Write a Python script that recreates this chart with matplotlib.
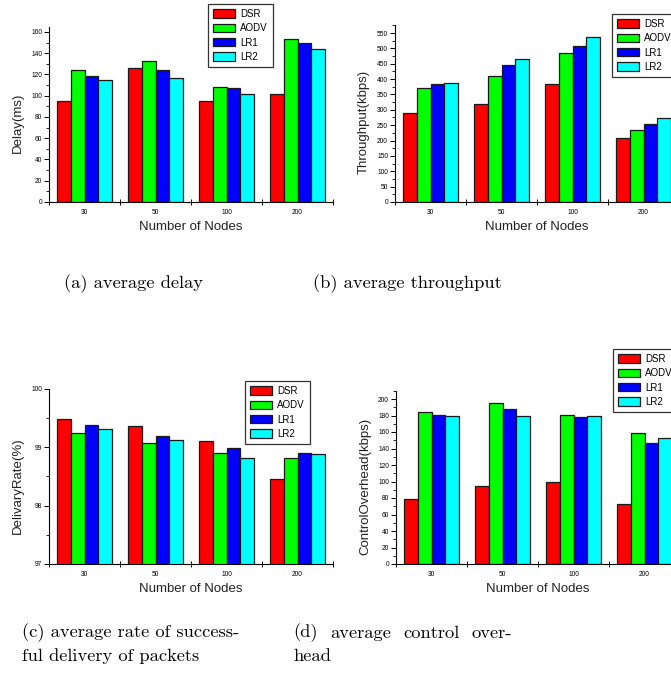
import numpy as np
import matplotlib
matplotlib.use("Agg")
import matplotlib.pyplot as plt
from matplotlib.ticker import MultipleLocator, FixedLocator, NullFormatter

nodes = ["30", "50", "100", "200"]
series = ["DSR", "AODV", "LR1", "LR2"]
colors = ["#ff0000", "#00ff00", "#0000ff", "#00ffff"]

# one row per series (DSR, AODV, LR1, LR2), one column per node count
delay = [[95, 126, 95, 102],
         [124, 133, 108, 153],
         [119, 124, 107, 150],
         [115, 117, 102, 144]]
throughput = [[290, 318, 385, 207],
              [372, 410, 486, 234],
              [383, 446, 507, 254],
              [388, 464, 537, 274]]
delivery = [[99.48, 99.36, 99.11, 98.45],
            [99.24, 99.08, 98.90, 98.81],
            [99.38, 99.19, 98.99, 98.90],
            [99.31, 99.12, 98.81, 98.88]]
overhead = [[79, 95, 100, 73],
            [184, 195, 181, 159],
            [181, 188, 178, 147],
            [179, 179, 179, 153]]

W_PX, H_PX = 671, 689
fig = plt.figure(figsize=(W_PX / 100, H_PX / 100), dpi=100)
SANS = "Liberation Sans"
SERIF = "cmr10"
BW = 0.197


def px_rect(left, right, bottom, top):
    return [left / W_PX, 1 - bottom / H_PX, (right - left) / W_PX, (bottom - top) / H_PX]


def panel(rect, vals, ylim, major, minor, ylabel, leg_xy):
    ax = fig.add_axes(rect)
    x = np.arange(len(nodes))
    for i, (name, col) in enumerate(zip(series, colors)):
        ax.bar(x + (i - 1.5) * BW, vals[i], BW, color=col, edgecolor="#1a1a1a",
               linewidth=0.9, label=name, zorder=2)
    ax.set_xlim(-0.5, 3.5)
    ax.set_ylim(*ylim)
    for s in ("top", "right"):
        ax.spines[s].set_visible(False)
    for s in ("left", "bottom"):
        ax.spines[s].set_linewidth(0.8)
    ax.yaxis.set_major_locator(MultipleLocator(major))
    ax.yaxis.set_minor_locator(MultipleLocator(minor))
    ax.tick_params(axis="y", which="major", length=3.5, width=0.7, labelsize=4.8, pad=1.5)
    ax.tick_params(axis="y", which="minor", length=2, width=0.6)
    # group boundaries carry the ticks, group centres carry the labels
    ax.xaxis.set_major_locator(FixedLocator([-0.5, 0.5, 1.5, 2.5, 3.5]))
    ax.xaxis.set_major_formatter(NullFormatter())
    ax.set_xticks(x, nodes, minor=True)
    ax.tick_params(axis="x", which="major", direction="inout", length=4, width=0.7)
    ax.tick_params(axis="x", which="minor", length=0, labelsize=4.8, pad=5)
    for t in ax.get_xticklabels(minor=True) + ax.get_yticklabels():
        t.set_family(SANS)
    ax.set_xlabel("Number of Nodes", family=SANS, fontsize=9.5, color="#222222", labelpad=4)
    ax.set_ylabel(ylabel, family=SANS, fontsize=9.5, color="#222222")
    ax.yaxis.set_label_coords(-0.088, 0.45)
    leg = ax.legend(loc="upper left", bbox_to_anchor=(leg_xy[0] / W_PX, 1 - leg_xy[1] / H_PX),
                    bbox_transform=fig.transFigure, fancybox=False, framealpha=1,
                    edgecolor="#333333", prop={"family": SANS, "size": 7},
                    handlelength=2.3, handleheight=0.95, labelspacing=0.45,
                    handletextpad=0.5, borderpad=0.5, borderaxespad=0)
    leg.get_frame().set_linewidth(0.9)
    for p in leg.get_patches():
        p.set_linewidth(0.9)
    return ax


panel(px_rect(49, 333, 202, 202 - 165 * 170 / 160), delay, (0, 165), 20, 10, "Delay(ms)", (208, 4))
panel(px_rect(395, 679, 202, 202 - 576 * 169 / 550), throughput, (0, 576), 50, 25,
      "Throughput(kbps)", (612, 14))
panel(px_rect(49, 333, 564, 389), delivery, (97, 100), 1, 0.5, "DelivaryRate(%)", (245, 381))
panel(px_rect(396, 680, 564, 564 - 210 * 0.825), overhead, (0, 210), 20, 10,
      "ControlOverhead(kbps)", (613, 349))

cap = dict(family=SERIF, fontsize=13.3, va="center")
fig.text(133 / W_PX, 1 - 284 / H_PX, "(a) average delay", ha="center", **cap)
fig.text(407 / W_PX, 1 - 284 / H_PX, "(b) average throughput", ha="center", **cap)
fig.text(22 / W_PX, 1 - 633 / H_PX, "(c) average rate of success-", ha="left", **cap)
fig.text(22 / W_PX, 1 - 656 / H_PX, "ful delivery of packets", ha="left", **cap)
for word, xpos in [("(d)", 293), ("average", 330), ("control", 403)]:
    fig.text(xpos / W_PX, 1 - 633 / H_PX, word, ha="left", **cap)
fig.text(512 / W_PX, 1 - 633 / H_PX, "over-", ha="right", **cap)
fig.text(293 / W_PX, 1 - 656 / H_PX, "head", ha="left", **cap)

fig.savefig("out.png", dpi=100, facecolor="white")
